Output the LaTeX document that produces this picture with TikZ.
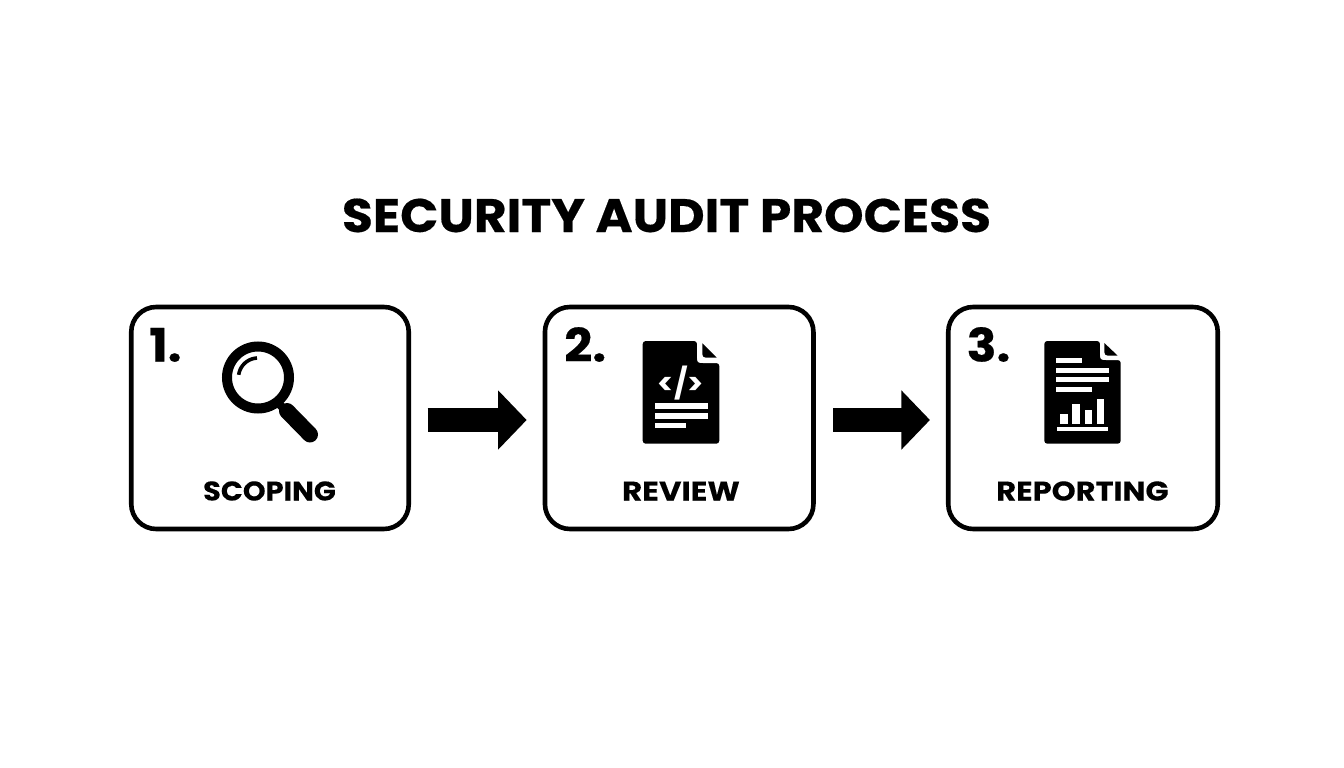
\documentclass[tikz,border=0pt]{standalone}
\usepackage{graphicx}
\usepackage{fontspec}
\setmainfont{Poppins}[BoldFont={Poppins Bold}]
\newfontfamily\hv{Poppins Bold}[FakeStretch=1.07,FakeBold=0.4]
\newfontfamily\hl{Poppins Bold}[FakeStretch=1.07,FakeBold=0.1]
\usetikzlibrary{arrows.meta}
\tikzset{
  card/.style={draw=black,line width=4.6pt,rounded corners=25pt,fill=white,inner sep=0pt,minimum height=222pt},
  title/.style={font=\hv\fontsize{47}{47}\selectfont,anchor=base,inner sep=0pt},
  lab/.style={font=\hl\fontsize{27}{27}\selectfont,anchor=base,inner sep=0pt},
  num/.style={font=\hv\fontsize{46}{46}\selectfont,anchor=base west,inner sep=0pt},
  flow/.style={line width=23.5pt,-{Triangle[length=28.5pt,width=57.5pt]}},
  bar/.style={fill=white,draw=none},
  ink/.style={fill=black,draw=none},
}
\begin{document}
\begin{tikzpicture}[x=1pt,y=-1pt]
\useasboundingbox (0,0) rectangle (1344,768);
\fill[white] (0,0) rectangle (1344,768);
\node[title] (t) at (666.5,232) {SECURITY AUDIT PROCESS};
\node[card,minimum width=277.5pt] (c1) at (270,418) {};
\node[card,minimum width=268.5pt] (c2) at (679.2,418) {};
\node[card,minimum width=269.5pt] (c3) at (1083,418) {};
\node[num] (n1) at (149,361.5) {1.};
\node[num] (n2) at (564,361.5) {2.};
\node[num] (n3) at (966.5,361.5) {3.};
\node[lab] (l1) at (269.5,500.5) {SCOPING};
\node[lab] (l2) at (681,500.5) {\scalebox{1.07}[1]{REVIEW}};
\node[lab] (l3) at (1082.5,500.5) {\scalebox{1.055}[1]{REPORTING}};
% arrows
\path ([yshift=-2pt]c1.east) coordinate (p1) ([yshift=-2pt]c2.west) coordinate (q1)
      ([yshift=-2pt]c2.east) coordinate (p2) ([yshift=-2pt]c3.west) coordinate (q2);
\draw[flow,shorten <=16.5pt,shorten >=16pt] (p1) -- (q1);
\draw[flow,shorten <=17.5pt,shorten >=16pt] (p2) -- (q2);
% magnifier
\draw[line width=10pt] (258,377.5) circle (31);
\draw[line width=8pt] (277,402) -- (290,415);
\draw[line width=16pt,line cap=round] (287,411) -- (310,434.5);
\draw[line width=3.6pt] plot[smooth,domain=188:267,samples=12] ({258+19.5*cos(\x)},{377.5+19.5*sin(\x)});
% doc 2
\fill[ink,rounded corners=3pt] (642.7,341) -- (697,341) -- (697,363) -- (719.3,363) -- (719.3,443.7) -- (642.7,443.7) -- cycle;
\fill[white,rounded corners=6pt] (697,335) -- (697,363) -- (725,363) -- (725,335) -- cycle;
\fill[ink] (702.3,343.3) -- (716.7,357.7) -- (706,357.7) .. controls (703.5,357.7) and (702.3,356) .. (702.3,354) -- cycle;
\node[font=\bfseries\fontsize{30}{30}\selectfont,text=white,inner sep=0pt,anchor=center] (code) at (681,383) {</>};
\fill[bar] (655,403.3) rectangle (707.7,409);
\fill[bar] (655,413.3) rectangle (707.7,418.7);
\fill[bar] (655,423) rectangle (686,427.7);
% doc 3
\fill[ink,rounded corners=3pt] (1044.3,341) -- (1100,341) -- (1100,360) -- (1120.7,360) -- (1120.7,443.7) -- (1044.3,443.7) -- cycle;
\fill[white,rounded corners=6pt] (1100,335) -- (1100,360) -- (1126,360) -- (1126,335) -- cycle;
\fill[ink] (1104.3,343) -- (1117.7,355.7) -- (1108,355.7) .. controls (1105.5,355.7) and (1104.3,354) .. (1104.3,352) -- cycle;
\fill[bar] (1056,357.7) rectangle (1082.3,362.7);
\fill[bar] (1056,367.7) rectangle (1109,372.7);
\fill[bar] (1056,377.3) rectangle (1109,382.3);
\fill[bar] (1056,387.3) rectangle (1092.3,392);
\fill[bar] (1060.3,414) rectangle (1067.7,423.7);
\fill[bar] (1072.3,404.3) rectangle (1080,423.7);
\fill[bar] (1084.7,410.3) rectangle (1092.3,423.7);
\fill[bar] (1097,399.3) rectangle (1104,423.7);
\fill[bar] (1057.3,427.3) rectangle (1108,431.3);
\end{tikzpicture}
\end{document}
